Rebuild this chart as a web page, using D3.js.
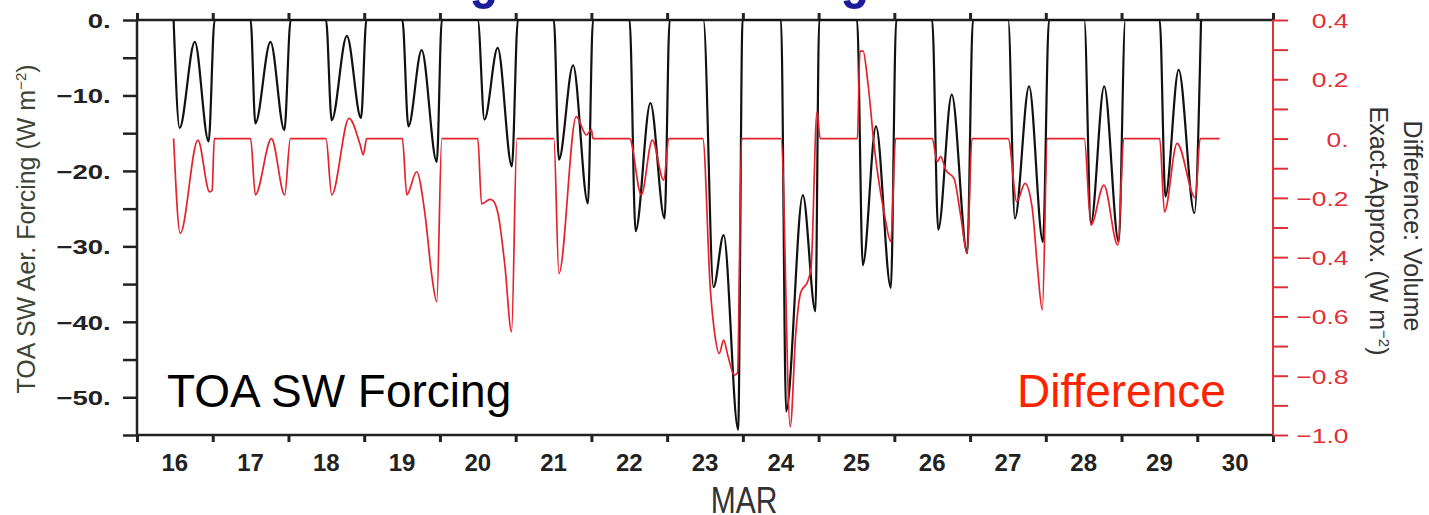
<!DOCTYPE html>
<meta charset="utf-8">
<style>
  body { margin: 0; background: #fff; }
  text { font-family: "Liberation Sans", Arial, Helvetica, sans-serif; }
</style>
<div id="chart"></div>
<script src="https://d3js.org/d3.v7.min.js"></script>
<script>

// hours since 16 Mar 00 UTC, TOA SW aerosol forcing (W m-2)
var forcing = [
  [11.6,0],[13.5,-14.3],[18.3,-2.9],[22.7,-16.1],[24.6,0],
  [36.0,0],[37.5,-13.7],[42.3,-2.9],[46.7,-14.6],[48.7,0],
  [59.9,0],[61.7,-13.3],[66.5,-2.1],[71.0,-13.0],[72.7,0],
  [84.1,0],[86.0,-14.1],[90.2,-4.0],[95.0,-18.8],[96.6,0],
  [108.0,0],[110.1,-13.2],[114.3,-3.7],[118.8,-19.4],[120.7,0],
  [132.1,0],[133.7,-18.5],[138.2,-6.0],[142.9,-24.3],[144.5,0],
  [156.1,0],[158.0,-28.0],[162.7,-11.0],[167.2,-26.3],[168.8,0],
  [179.5,0],[182.7,-35.4],[185.9,-28.5],[190.5,-54.3],[191.9,0],
  [204.1,0],[205.7,-51.9],[211.0,-23.2],[215.0,-38.6],[216.2,0],
  [228.2,0],[230.0,-32.5],[234.2,-14.1],[238.9,-35.5],[240.6,0],
  [252.0,0],[253.9,-27.8],[258.2,-9.9],[263.1,-30.9],[264.9,0],
  [276.1,0],[278.2,-26.3],[282.7,-8.8],[287.1,-29.4],[289.0,0],
  [300.2,0],[302.3,-26.9],[306.5,-8.8],[311.1,-29.4],[313.2,0],
  [324.1,0],[325.9,-23.4],[330.1,-6.6],[335.1,-25.6],[337.2,0]
]

// difference volume exact - approx (W m-2)
var diff = [
  [11.6,0],[13.7,-0.32],[19.3,-0.005],[23.0,-0.18],[23.8,-0.175],[24.5,0],
  [36.0,0],[37.5,-0.19],[42.6,0],[46.8,-0.19],[48.6,0],
  [59.9,0],[61.7,-0.19],[67.2,0.068],[70.7,-0.02],[71.7,-0.055],[72.8,0],
  [84.1,0],[85.5,-0.19],[88.6,-0.112],[91.3,-0.258],[93.4,-0.46],[95.0,-0.55],[96.6,0],
  [108.0,0],[109.2,-0.22],[111.9,-0.205],[112.9,-0.21],[114.5,-0.258],[116.6,-0.43],[118.7,-0.652],[120.4,0],
  [132.1,0],[133.7,-0.455],[139.2,0.074],[142.4,0.012],[144.0,0.03],[144.5,0],
  [156.1,0],[159.8,-0.19],[163.3,-0.005],[166.9,-0.14],[168.6,0],
  [179.3,0],[181.7,-0.51],[183.0,-0.652],[184.5,-0.725],[185.9,-0.68],[187.2,-0.73],[189.3,-0.798],[190.3,-0.79],[191.6,0],
  [204.1,0],[207.0,-0.972],[208.8,-0.652],[210.4,-0.517],[212.5,-0.483],[213.6,-0.438],[215.5,0.09],[216.5,0],
  [228.3,0],[229.1,0.295],[230.1,0.295],[231.6,0.19],[233.7,-0.033],[236.9,-0.258],[238.9,-0.348],[240.4,0],
  [252.0,0],[253.6,-0.078],[254.7,-0.061],[256.3,-0.106],[258.9,-0.134],[261.0,-0.258],[263.1,-0.387],[264.6,0],
  [276.1,0],[278.8,-0.213],[281.4,-0.151],[283.7,-0.235],[285.3,-0.427],[286.9,-0.578],[288.5,0],
  [300.2,0],[302.3,-0.292],[306.4,-0.157],[310.8,-0.359],[312.8,0],
  [324.1,0],[325.6,-0.247],[329.6,-0.016],[335.4,-0.2],[336.9,0],[343.1,0]
]

var dayLabels = ["16","17","18","19","20","21","22","23","24","25","26","27","28","29","30"]
var leftTicks = [0,-5,-10,-15,-20,-25,-30,-35,-40,-45,-50,-55]
var leftLabels = {"0":"0.","-10":"\u221210.","-20":"\u221220.","-30":"\u221230.","-40":"\u221240.","-50":"\u221250."}
var rightTicks = [0.4,0.3,0.2,0.1,0,-0.1,-0.2,-0.3,-0.4,-0.5,-0.6,-0.7,-0.8,-0.9,-1.0]
var rightLabels = {"0.4":"0.4","0.2":"0.2","0":"0.","-0.2":"\u22120.2","-0.4":"\u22120.4","-0.6":"\u22120.6","-0.8":"\u22120.8","-1":"\u22121.0"}

var width = 1429
    height = 515
    plotL = 137, plotR = 1273, plotT = 20, plotB = 435

var svg = d3.select("#chart")
  .append("svg")
    .attr("width", width)
    .attr("height", height)
    .style("display", "block")
svg.append("rect").attr("width", width).attr("height", height).attr("fill", "#fff")

var x = d3.scaleLinear().domain([0, 360]).range([plotL, plotR])
var yL = d3.scaleLinear().domain([-55, 0]).range([plotB, plotT])
var yR = d3.scaleLinear().domain([-1.0, 0.4]).range([plotB, plotT])

// slide title, cut off at the top: only the "g" descenders show
var title = svg.append("text")
  .text("Exact Forcing vs Volume Integrated")
  .attr("font-size", 58)
  .attr("font-weight", "bold")
  .attr("fill", "#1c1c9a")
var tn = title.node()
var s = tn.textContent
var g1 = s.indexOf("g"), g2 = s.indexOf("g", g1 + 1)
var o1 = tn.getSubStringLength(0, g1) + tn.getSubStringLength(g1, 1) / 2
var o2 = tn.getSubStringLength(0, g2) + tn.getSubStringLength(g2, 1) / 2
var sx = (855 - 484) / (o2 - o1)
title.attr("transform", "translate(" + (484 - sx * o1) + ",-3) scale(" + sx + ",1)")

// x axis ticks (top and bottom)
var dayTicks = d3.range(0, 361, 24)
svg.append("g")
  .attr("transform", "translate(0," + plotB + ")")
  .call(d3.axisBottom(x).tickValues(dayTicks).tickSize(7).tickFormat(""))
  .call(g => g.select(".domain").remove())
  .selectAll("line").attr("stroke", "#222").attr("stroke-width", 3)
svg.append("g")
  .attr("transform", "translate(0," + plotT + ")")
  .call(d3.axisTop(x).tickValues(dayTicks).tickSize(7).tickFormat(""))
  .call(g => g.select(".domain").remove())
  .selectAll("line").attr("stroke", "#222").attr("stroke-width", 3)

svg.selectAll("dayLabel")
  .data(dayLabels)
  .enter()
  .append("text")
    .attr("x", function(d, i) { return x(12 + 24 * i) })
    .attr("y", 471)
    .attr("text-anchor", "middle")
    .attr("font-size", 24)
    .attr("font-weight", "bold")
    .attr("fill", "#222")
    .text(function(d) { return d })

svg.append("text")
  .attr("transform", "translate(744,513) scale(1,1.2)")
  .attr("text-anchor", "middle")
  .attr("font-size", 30)
  .attr("fill", "#333")
  .text("MAR")

// left axis
var gL = svg.append("g")
  .attr("transform", "translate(" + plotL + ",0)")
  .call(d3.axisLeft(yL).tickValues(leftTicks).tickSize(14)
    .tickFormat(function(d) { return leftLabels[String(d)] || "" }))
gL.select(".domain").remove()
gL.selectAll("line").attr("stroke", "#222").attr("stroke-width", 2.5)
gL.selectAll("text")
  .attr("x", -19)
  .attr("dy", "0.36em")
  .attr("transform", "scale(1.38,1)")
  .attr("font-size", 20)
  .attr("font-weight", "bold")
  .attr("font-family", "Liberation Sans, Arial, sans-serif")
  .attr("fill", "#222")

// right axis
var red = "#e0303a"
var gR = svg.append("g")
  .attr("transform", "translate(" + plotR + ",0)")
  .call(d3.axisRight(yR).tickValues(rightTicks).tickSize(15)
    .tickFormat(function(d) { return rightLabels[String(+d.toFixed(1))] || "" }))
gR.select(".domain").remove()
gR.selectAll("line").attr("stroke", red).attr("stroke-width", 2)
gR.selectAll("text")
  .attr("x", 60)
  .attr("dy", "0.36em")
  .attr("text-anchor", "end")
  .attr("transform", "scale(1.26,1)")
  .attr("font-size", 21)
  .attr("font-family", "Liberation Sans, Arial, sans-serif")
  .attr("fill", red)

// frame
svg.append("line").attr("x1", plotL).attr("x2", plotL).attr("y1", plotT).attr("y2", plotB)
  .attr("stroke", "#222").attr("stroke-width", 2.5)
svg.append("line").attr("x1", plotL).attr("x2", plotR).attr("y1", plotT).attr("y2", plotT)
  .attr("stroke", "#222").attr("stroke-width", 2.5)
svg.append("line").attr("x1", plotL).attr("x2", plotR).attr("y1", plotB).attr("y2", plotB)
  .attr("stroke", "#222").attr("stroke-width", 2.5)
svg.append("line").attr("x1", plotR).attr("x2", plotR).attr("y1", plotT).attr("y2", plotB)
  .attr("stroke", red).attr("stroke-width", 2)

// series
var lineF = d3.line()
  .x(function(d) { return x(d[0]) })
  .y(function(d) { return yL(d[1]) })
  .curve(d3.curveMonotoneX)
var lineD = d3.line()
  .x(function(d) { return x(d[0]) })
  .y(function(d) { return yR(d[1]) })
  .curve(d3.curveMonotoneX)

svg.append("path")
  .datum(forcing)
  .attr("d", lineF)
  .attr("fill", "none")
  .attr("stroke", "#111")
  .attr("stroke-width", 2.2)
svg.append("path")
  .datum(diff)
  .attr("d", lineD)
  .attr("fill", "none")
  .attr("stroke", "#e3222c")
  .attr("stroke-width", 1.7)

// axis titles
var lt = svg.append("text")
  .attr("transform", "translate(35,229) rotate(-90)")
  .attr("text-anchor", "middle")
  .attr("font-size", 25)
  .attr("fill", "#3b4636")
lt.append("tspan").text("TOA SW Aer. Forcing (W m")
lt.append("tspan").attr("dy", -9).attr("font-size", 15).text("\u22122")
lt.append("tspan").attr("dy", 9).text(")")

var rt = svg.append("text")
  .attr("transform", "translate(1404,226) rotate(90)")
  .attr("text-anchor", "middle")
  .attr("font-size", 25)
  .attr("fill", "#333")
  .text("Difference: Volume")
var rt2 = svg.append("text")
  .attr("transform", "translate(1370,231) rotate(90)")
  .attr("text-anchor", "middle")
  .attr("font-size", 25)
  .attr("fill", "#333")
rt2.append("tspan").text("Exact-Approx. (W m")
rt2.append("tspan").attr("dy", -9).attr("font-size", 15).text("\u22122")
rt2.append("tspan").attr("dy", 9).text(")")

// annotations
svg.append("text")
  .attr("x", 167).attr("y", 407)
  .attr("font-size", 46)
  .attr("fill", "#000")
  .text("TOA SW Forcing")
svg.append("text")
  .attr("x", 1017).attr("y", 407)
  .attr("font-size", 46)
  .attr("fill", "#ff2200")
  .text("Difference")

</script>
